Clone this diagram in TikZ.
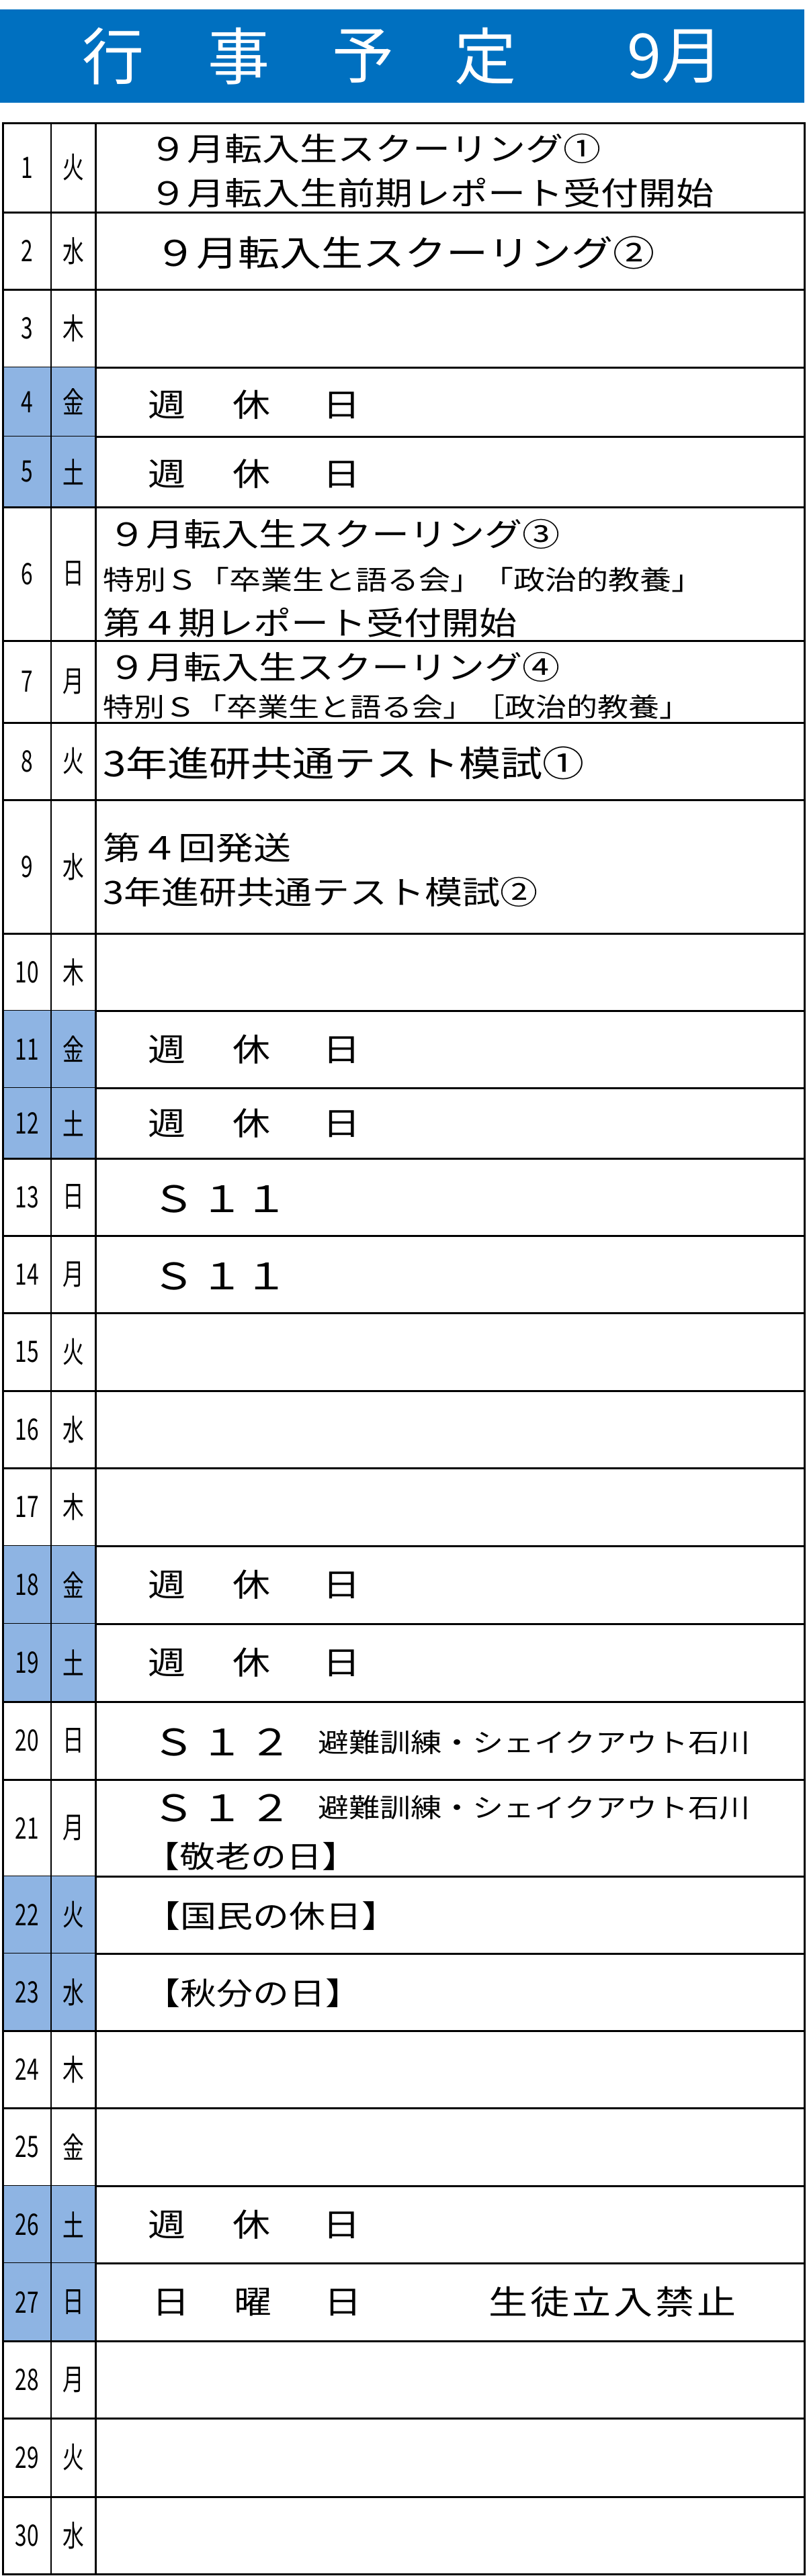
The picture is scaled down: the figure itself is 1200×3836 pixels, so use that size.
\documentclass[tikz,border=0pt]{standalone}
\usepackage{fontspec}
\setmainfont{Noto Sans CJK JP}
\usepackage{xcolor}
\definecolor{headblue}{RGB}{0,112,192}
\definecolor{restblue}{RGB}{142,180,227}

\begin{document}
\begin{tikzpicture}[x=1pt,y=1pt]
  \tikzstyle{myline}=[line width=3pt, black];
  \tikzstyle{daytext}=[inner sep=0pt, font=\fontsize{44}{44}\selectfont, xscale=.72, transform shape];
  \tikzstyle{mytext}=[inner sep=0pt, anchor=west, font=\fontsize{56}{56}\selectfont, yscale=.85, transform shape];
  \newcommand{\fs}[1]{\fontsize{#1}{#1}\selectfont}
  \useasboundingbox (0,0) rectangle (1200,-3836);
  %
  % header
  \fill[headblue] (0,-14) rectangle (1197,-153);
  \foreach \c/\x [count=\i] in {行/168,事/355,予/540,定/722}
    \node[text=white, font=\fs{92}, inner sep=0pt] (head\i) at (\x,-84) {\c};
  \node[text=white, font=\fs{92}, inner sep=0pt] (headm) at (1005,-84) {9月};
  %
  % rows: number / weekday / top / bottom / rest day
  \foreach \n/\d/\t/\b/\h in {1/火/183/316/0, 2/水/316/431/0, 3/木/431/547/0,
    4/金/547/650/1, 5/土/650/755/1, 6/日/755/954/0, 7/月/954/1076/0,
    8/火/1076/1191/0, 9/水/1191/1390/0, 10/木/1390/1505/0, 11/金/1505/1620/1,
    12/土/1620/1725/1, 13/日/1725/1840/0, 14/月/1840/1955/0, 15/火/1955/2071/0,
    16/水/2071/2186/0, 17/木/2186/2302/0, 18/金/2302/2418/1, 19/土/2418/2534/1,
    20/日/2534/2650/0, 21/月/2650/2794/0, 22/火/2794/2909/1, 23/水/2909/3024/1,
    24/木/3024/3139/0, 25/金/3139/3255/0, 26/土/3255/3370/1, 27/日/3370/3486/1,
    28/月/3486/3601/0, 29/火/3601/3718/0, 30/水/3718/3833/0} {
    \ifnum\h=1 \fill[restblue] (4,-\t) rectangle (142,-\b); \fi
    \node[daytext] (num\n) at (40,{-(\t+\b)/2}) {\n};
    \node[daytext] (wd\n) at (109,{-(\t+\b)/2}) {\d};
    \draw[myline] (4,-\b) -- (1197,-\b);
  }
  %
  % grid
  \draw[myline] (4,-183) rectangle (1197,-3833);
  \draw[line width=2pt] (76,-183) -- (76,-3833);
  \draw[line width=3pt] (142,-183) -- (142,-3833);
  %
  % events
  \node[mytext] (e1a) at (222,-221) {９月転入生スクーリング①};
  \node[mytext] (e1b) at (222,-287) {９月転入生前期レポート受付開始};
  \node[mytext, font=\fs{62}] (e2) at (230,-376) {９月転入生スクーリング②};
  \foreach \y [count=\i] in {603,706,1563,1673,2360,2476,3313}
    \node[mytext] (rest\i) at (220,-\y) {週\hspace{70pt}休\hspace{78pt}日};
  \node[mytext] (e6a) at (161,-795) {９月転入生スクーリング③};
  \node[mytext, font=\fs{47}] (e6b) at (153,-863) {特別Ｓ「卒業生と語る会」「政治的教養」};
  \node[mytext] (e6c) at (153,-927) {第４期レポート受付開始};
  \node[mytext] (e7a) at (161,-993) {９月転入生スクーリング④};
  \node[mytext, font=\fs{46}] (e7b) at (153,-1053) {特別Ｓ「卒業生と語る会」［政治的教養」};
  \node[mytext, font=\fs{62}] (e8) at (153,-1136) {3年進研共通テスト模試①};
  \node[mytext] (e9a) at (153,-1262) {第４回発送};
  \node[mytext] (e9b) at (153,-1328) {3年進研共通テスト模試②};
  \node[mytext, font=\fs{64}] (e13) at (226,-1786) {Ｓ\hspace{8pt}１\hspace{2pt}１};
  \node[mytext, font=\fs{64}] (e14) at (226,-1901) {Ｓ\hspace{8pt}１\hspace{2pt}１};
  \node[mytext, font=\fs{64}] (e20a) at (226,-2595) {Ｓ\hspace{8pt}１\hspace{8pt}２};
  \node[mytext, font=\fs{46}] (e20b) at (473,-2595) {避難訓練・シェイクアウト石川};
  \node[mytext, font=\fs{64}] (e21a) at (226,-2692) {Ｓ\hspace{8pt}１\hspace{8pt}２};
  \node[mytext, font=\fs{46}] (e21b) at (473,-2692) {避難訓練・シェイクアウト石川};
  \node[mytext, font=\fs{53}] (e21c) at (214,-2764) {【敬老の日】};
  \node[mytext, font=\fs{54}] (e22) at (214,-2853) {【国民の休日】};
  \node[mytext, font=\fs{54}] (e23) at (214,-2968) {【秋分の日】};
  \node[mytext] (e27a) at (226,-3428) {日\hspace{66pt}曜\hspace{78pt}日};
  \node[mytext, font=\fs{58}] (e27b) at (727,-3428) {生\hspace{4pt}徒\hspace{4pt}立\hspace{4pt}入\hspace{4pt}禁\hspace{4pt}止};
\end{tikzpicture}
\end{document}
